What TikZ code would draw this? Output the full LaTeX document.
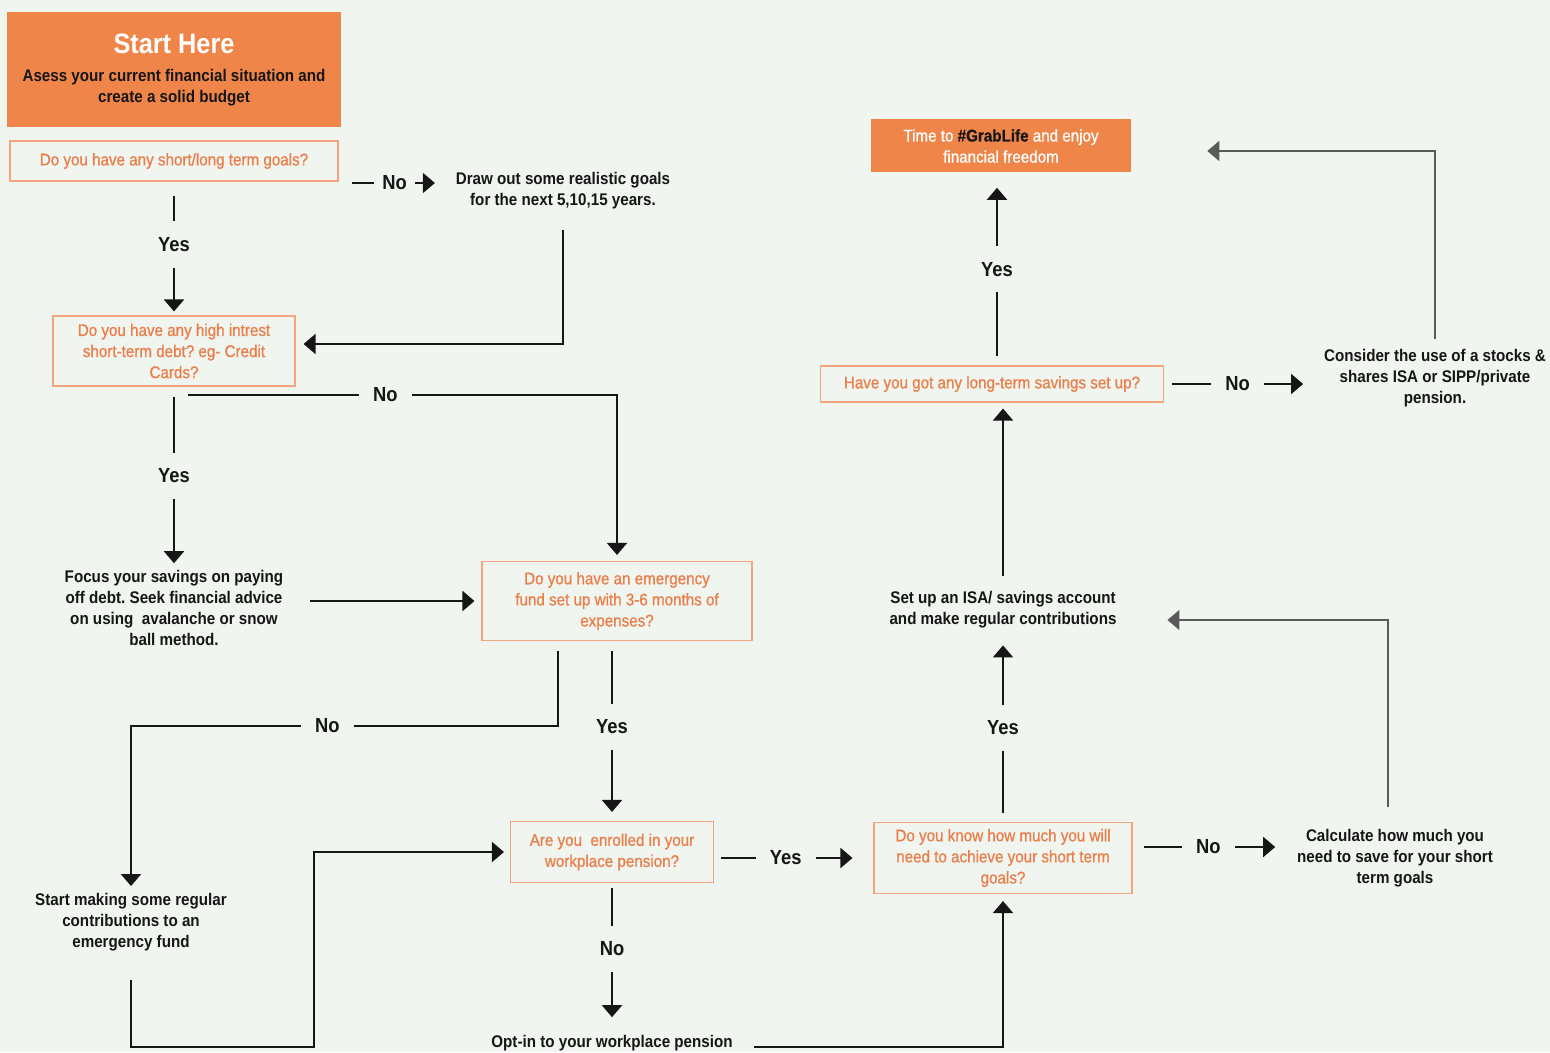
\documentclass[tikz,border=0pt]{standalone}
\usepackage{fontspec}
\setmainfont{Liberation Sans}[FakeStretch=0.9]
\newfontfamily\medium{Liberation Sans}[FakeStretch=0.9,FakeBold=0.9]
\usepackage{tikz}
\usetikzlibrary{arrows.meta,positioning}
\frenchspacing
\definecolor{Paper}{HTML}{F0F5EF}
\definecolor{Orange}{HTML}{F0854A}
\definecolor{OrangeInk}{HTML}{EA7F4C}
\definecolor{PaleOrange}{HTML}{F2A57E}
\definecolor{Ink}{HTML}{161616}
\definecolor{Rule}{HTML}{5A5A5A}
\tikzset{
  startbox/.style={fill=Orange,minimum width=8.35cm,minimum height=2.875cm,align=center,text=Ink,font=\fontsize{12}{15}\selectfont\bfseries},
  endbox/.style={fill=Orange,minimum width=6.5cm,minimum height=1.325cm,align=center,text=white,font=\fontsize{12}{15}\selectfont\medium},
  qbox/.style={draw=PaleOrange,line width=.8pt,align=center,text=OrangeInk,font=\fontsize{12}{15}\selectfont\medium},
  note/.style={align=center,text=Ink,font=\fontsize{12}{15}\selectfont\bfseries},
  flow/.style={-{Triangle[length=3mm,width=5mm]},draw=Ink,line width=1.4pt},
  back/.style={-{Triangle[length=3mm,width=5mm]},draw=Rule,line width=1pt},
  lbl/.style={fill=Paper,text=Ink,inner xsep=.35cm,inner ysep=.4cm,font=\fontsize{14.5}{16}\selectfont\bfseries},
}

\begin{document}
\begin{tikzpicture}[node distance=2cm and 2cm,on grid]
        \path[use as bounding box,fill=Paper] (0,0) rectangle (38.75,-26.3);
        \node[startbox] (start) at (4.35,-1.75) {{\color{white}\fontsize{20}{24}\selectfont Start Here}\\[5pt]Asess your current financial situation and\\create a solid budget};
        \node[qbox,minimum width=8.2cm,minimum height=1cm,below=2.275cm of start] (goals) {Do you have any short/long term goals?};
        \node[note,below right=.75cm and 9.725cm of goals] (drawout) {Draw out some realistic goals\\for the next 5,10,15 years.};
        \node[qbox,minimum width=6.05cm,minimum height=1.75cm,below=4.75cm of goals] (debt) {Do you have any high intrest\\short-term debt? eg- Credit\\Cards?};
        \node[note,below=6.425cm of debt] (focus) {Focus your savings on paying\\off debt. Seek financial advice\\on using\ \ avalanche or snow\\ball method.};
        \node[qbox,minimum width=6.75cm,minimum height=1.975cm,above right=.175cm and 11.075cm of focus] (emerg) {Do you have an emergency\\fund set up with 3-6 months of\\expenses?};
        \node[note,below left=7.85cm and 1.075cm of focus] (startfund) {Start making some regular\\contributions to an\\emergency fund};
        \node[qbox,minimum width=5.075cm,minimum height=1.525cm,below left=6.275cm and .125cm of emerg] (pension) {Are you\ \ enrolled in your\\workplace pension?};
        \node[note,below=4.775cm of pension] (optin) {Opt-in to your workplace pension};
        \node[qbox,minimum width=6.45cm,minimum height=1.775cm,below right=.15cm and 9.775cm of pension] (knowhow) {Do you know how much you will\\need to achieve your short term\\goals?};
        \node[note,right=9.8cm of knowhow] (calc) {Calculate how much you\\need to save for your short\\term goals};
        \node[note,above=6.2cm of knowhow] (isa) {Set up an ISA/ savings account\\and make regular contributions};
        \node[qbox,minimum width=8.575cm,minimum height=.9cm,above left=5.65cm and .275cm of isa] (longterm) {Have you got any long-term savings set up?};
        \node[note,above right=.15cm and 11.075cm of longterm] (consider) {Consider the use of a stocks \&\\shares ISA or SIPP/private\\pension.};
        \node[endbox,above right=5.95cm and .225cm of longterm] (freedom) {Time to {\color{Ink}\bfseries\#GrabLife} and enjoy\\financial freedom};
        % left column
        \draw[flow,shorten <=.325cm,shorten >=.4cm] ([yshift=-.55cm]goals.east) -- node[lbl,inner xsep=.2cm]{No} ([yshift=.2cm]drawout.west);
        \draw[flow,shorten <=.35cm,shorten >=.1cm] (goals.south) -- node[lbl,yshift=.1cm]{Yes} (debt.north);
        \draw[flow,shorten <=.4cm,shorten >=.2cm] (drawout.south) |- ([yshift=.175cm]debt.east);
        \draw[flow,shorten >=.15cm] ([xshift=.35cm,yshift=-.2cm]debt.south) -| node[lbl,pos=.23]{No} (emerg.north);
        \draw[flow,shorten <=.25cm,shorten >=.05cm] (debt.south) -- node[lbl]{Yes} (focus.north);
        \draw[flow,shorten <=.55cm,shorten >=.175cm] (focus.east |- emerg.west) -- (emerg.west);
        % middle
        \draw[flow,shorten <=.25cm,shorten >=.05cm] ([xshift=-1.475cm]emerg.south) -- ++(0,-2.125) -| node[lbl,pos=.27]{No} (startfund.north);
        \draw[flow,shorten <=.25cm,shorten >=.225cm] (emerg.south -| pension.north) -- node[lbl,yshift=.1cm]{Yes} (pension.north);
        \draw[flow,shorten <=.6cm,shorten >=.15cm] (startfund.south) -- (startfund.south |- optin.base) -- ++(4.575,0) |- (pension.west);
        \draw[flow,shorten <=.175cm,shorten >=.525cm] (knowhow.west -| pension.east) -- node[lbl,xshift=-.2cm]{Yes} (knowhow.west);
        \draw[flow,shorten <=.125cm,shorten >=.325cm] (pension.south -| optin.north) -- node[lbl,yshift=.2cm]{No} (optin.north);
        \draw[flow,shorten <=.4cm,shorten >=.175cm] (optin.base east) -| (knowhow.south);
        % right column
        \draw[flow,shorten <=.225cm,shorten >=.3cm] (knowhow.north) -- node[lbl]{Yes} (isa.south);
        \draw[flow,shorten <=.275cm,shorten >=.425cm] ([yshift=.275cm]knowhow.east) -- node[lbl,xshift=-.1cm]{No} ([yshift=.275cm]knowhow.east -| calc.west);
        \draw[back,shorten <=.425cm,shorten >=1.15cm] ([xshift=-.175cm]calc.north) |- ([yshift=-.25cm]isa.east);
        \draw[flow,shorten <=.275cm,shorten >=.15cm] (isa.north) -- (isa.north |- longterm.south);
        \draw[flow,shorten <=.225cm,shorten >=.375cm] ([xshift=.125cm]longterm.north) -- node[lbl]{Yes} ([xshift=.125cm]longterm.north |- freedom.south);
        \draw[flow,shorten <=.2cm,shorten >=.4cm] (longterm.east) -- node[lbl,xshift=-.1cm]{No} (longterm.east -| consider.west);
        \draw[back,shorten <=.125cm,shorten >=1.9cm] (consider.north) |- ([yshift=-.125cm]freedom.east);
      \end{tikzpicture}
\end{document}
